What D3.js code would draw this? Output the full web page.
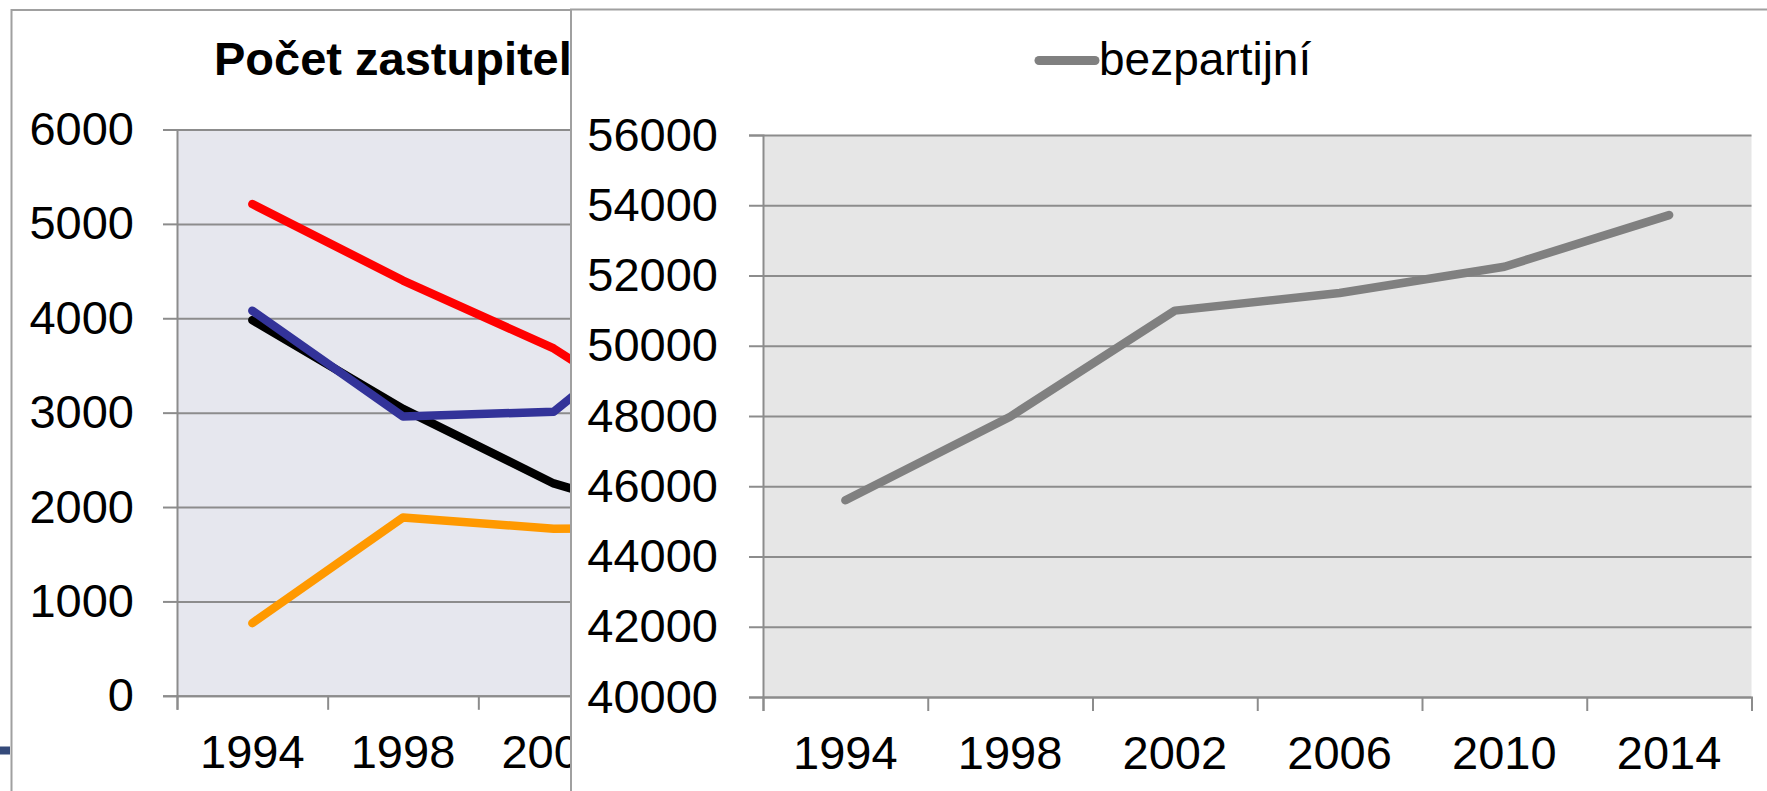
<!DOCTYPE html>
<html>
<head>
<meta charset="utf-8">
<script src="https://cdn.jsdelivr.net/npm/d3@7"></script>
<style>
  body { margin: 0; background: #fff; }
  svg { display: block; font-family: "Liberation Sans", Arial, sans-serif; }
</style>
</head>
<body>
<div id="chart"></div>
<script>
// data
var years = ["1994", "1998", "2002", "2006", "2010", "2014"];
// left chart (mostly covered by the right panel, later years are guesses)
var cervena = [5210, 4400, 3680, 2660, 2300, 2000];
var cerna = [3980, 3040, 2250, 1780, 1700, 1600];
var modra = [4080, 2960, 3010, 4300, 3100, 1900];
var oranzova = [770, 1890, 1770, 1780, 2000, 1900];
var leftTicks = [0, 1000, 2000, 3000, 4000, 5000, 6000];
// right chart
var bezpartijni = [45600, 47980, 51000, 51500, 52250, 53720];
var rightTicks = [40000, 42000, 44000, 46000, 48000, 50000, 52000, 54000, 56000];

var W = 1767, H = 791;
var panelX = 571;
var svg = d3.select("#chart").append("svg")
    .attr("width", W)
    .attr("height", H);

svg.append("rect").attr("width", W).attr("height", H).attr("fill", "#fff");

var gridCol = "#8c8c8c";

function drawPlot(g, opt) {
  var x = d3.scaleBand().domain(years).range([opt.x0, opt.x1]).padding(0);
  var xi = d3.scaleLinear().domain([0, years.length]).range([opt.x0, opt.x1]);
  var y = d3.scaleLinear().domain(opt.domain).range([opt.y1, opt.y0]);

  g.append("rect")
    .attr("x", opt.x0).attr("y", opt.y0)
    .attr("width", opt.x1 - opt.x0).attr("height", opt.y1 - opt.y0)
    .attr("fill", opt.bg);

  // gridlines
  var grid = g.append("g")
    .attr("transform", "translate(" + opt.x0 + ",0)")
    .call(d3.axisLeft(y).tickValues(opt.ticks).tickSize(-(opt.x1 - opt.x0)).tickFormat(""));
  grid.select(".domain").remove();
  grid.selectAll("line").attr("stroke", gridCol).attr("stroke-width", 2);

  // y axis
  var ya = g.append("g")
    .attr("transform", "translate(" + opt.x0 + ",0)")
    .call(d3.axisLeft(y).tickValues(opt.ticks).tickSize(14).tickPadding(opt.yPad).tickFormat(d3.format("d")));
  ya.select(".domain").attr("stroke", gridCol).attr("stroke-width", 2);
  ya.selectAll("line").attr("stroke", gridCol).attr("stroke-width", 2);
  ya.selectAll("text").attr("font-size", 47).attr("fill", "#000")
    .attr("font-family", "Liberation Sans, Arial, sans-serif");

  // x axis: tick marks between categories
  var xa = g.append("g")
    .attr("transform", "translate(0," + opt.y1 + ")")
    .call(d3.axisBottom(xi).tickValues(d3.range(years.length + 1)).tickSize(14).tickFormat(""));
  xa.select(".domain").attr("stroke", gridCol).attr("stroke-width", 2);
  xa.selectAll("line").attr("stroke", gridCol).attr("stroke-width", 2);

  // category labels, only those that are not hidden behind another panel
  var shown = years.filter(function(d) { return x(d) < opt.visibleTo; });
  var xl = g.append("g")
    .attr("transform", "translate(0," + opt.y1 + ")")
    .call(d3.axisBottom(x).tickValues(shown).tickSize(0).tickPadding(39));
  xl.select(".domain").remove();
  xl.selectAll("text").attr("font-size", 47).attr("fill", "#000")
    .attr("font-family", "Liberation Sans, Arial, sans-serif");

  var line = d3.line()
    .x(function(d, i) { return x(years[i]) + x.bandwidth() / 2; })
    .y(function(d) { return y(d); });

  opt.series.forEach(function(s) {
    g.append("path")
      .datum(s.values)
      .attr("d", line)
      .attr("fill", "none")
      .attr("stroke", s.color)
      .attr("stroke-width", 8.5)
      .attr("stroke-linecap", "round")
      .attr("stroke-linejoin", "round");
  });
}

// left chart
var left = svg.append("g");
left.append("rect")
  .attr("x", 11.5).attr("y", 10)
  .attr("width", 1200).attr("height", 900)
  .attr("fill", "#fff").attr("stroke", "#a0a0a0").attr("stroke-width", 2);

left.append("text")
  .attr("x", 214).attr("y", 75)
  .attr("font-size", 47).attr("font-weight", "bold")
  .text("Počet zastupitelů");

drawPlot(left, {
  x0: 177, x1: 1081, y0: 129.5, y1: 695.8, visibleTo: panelX, yPad: 29,
  domain: [0, 6000], ticks: leftTicks, bg: "#e6e7ee",
  series: [
    { values: oranzova, color: "#ff9900" },
    { values: cerna, color: "#000000" },
    { values: modra, color: "#333399" },
    { values: cervena, color: "#ff0000" }
  ]
});

// small slide mark at the left edge
svg.append("rect")
  .attr("x", 0).attr("y", 746.5).attr("width", 10).attr("height", 8)
  .attr("fill", "#354a7a");

// right panel on top
var right = svg.append("g");
right.append("rect")
  .attr("x", panelX).attr("y", 9.5)
  .attr("width", 1300).attr("height", 900)
  .attr("fill", "#fff").attr("stroke", "#a0a0a0").attr("stroke-width", 2);

right.append("line")
  .attr("x1", 1039).attr("x2", 1095)
  .attr("y1", 60.5).attr("y2", 60.5)
  .attr("stroke", "#808080").attr("stroke-width", 9)
  .attr("stroke-linecap", "round");
right.append("text")
  .attr("x", 1099).attr("y", 75)
  .attr("font-size", 46)
  .text("bezpartijní");

drawPlot(right, {
  x0: 763, x1: 1751.5, y0: 135, y1: 697, visibleTo: W, yPad: 31,
  domain: [40000, 56000], ticks: rightTicks, bg: "#e6e6e6",
  series: [
    { values: bezpartijni, color: "#808080" }
  ]
});
</script>
</body>
</html>
